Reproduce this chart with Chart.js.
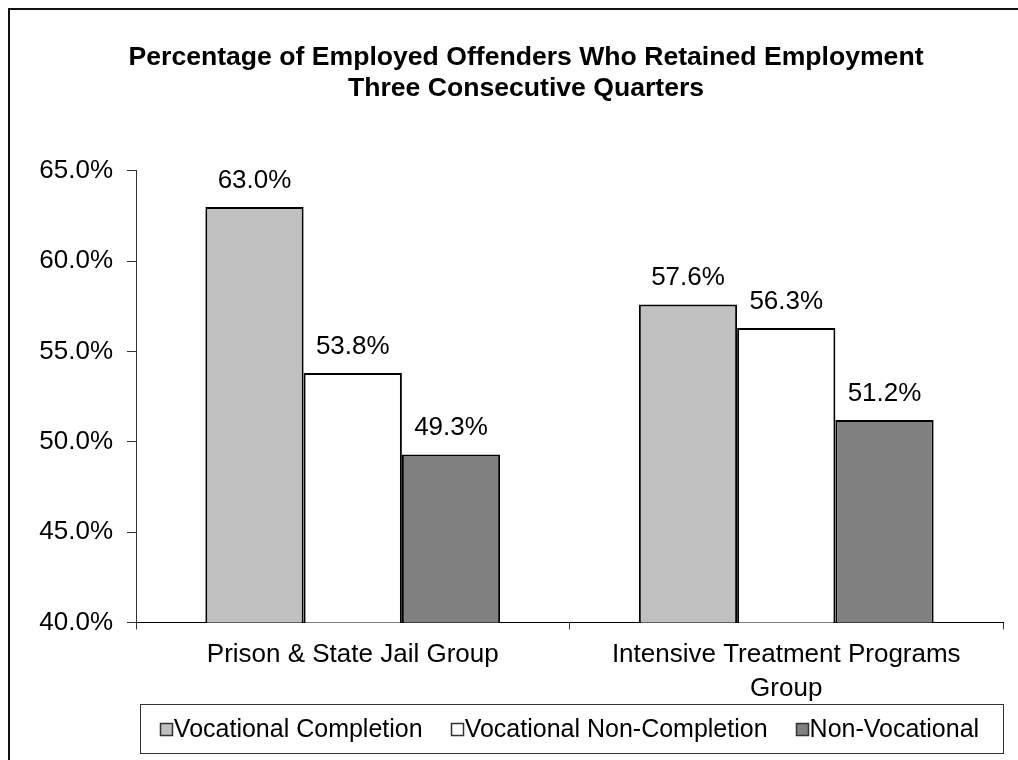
<!DOCTYPE html>
<html>
<head>
<meta charset="utf-8">
<script src="https://cdn.jsdelivr.net/npm/chart.js@4"></script>
<style>
  html, body { margin: 0; padding: 0; background: #fff; }
  #wrap { width: 1018px; height: 760px; }
</style>
</head>
<body>
<div id="wrap"><canvas id="chart"></canvas></div>
<script>
// --- Data ---
const groups = [
    'Prison & State Jail Group',
    ['Intensive Treatment Programs', 'Group']
];
const seriesNames = ['Vocational Completion', 'Vocational Non-Completion', 'Non-Vocational'];
const vocationalCompletion = [63.0, 57.6];
const vocationalNonCompletion = [53.8, 56.3];
const nonVocational = [49.3, 51.2];
const seriesColors = ['#c0c0c0', '#ffffff', '#808080'];

const FONT = "'Liberation Sans', Arial, sans-serif";

// value labels above each bar
const valueLabels = {
    id: 'valueLabels',
    afterDatasetsDraw(chart) {
        const ctx = chart.ctx;
        ctx.save();
        ctx.font = `26px ${FONT}`;
        ctx.fillStyle = '#000';
        ctx.textAlign = 'center';
        ctx.textBaseline = 'alphabetic';
        chart.data.datasets.forEach((ds, i) => {
            chart.getDatasetMeta(i).data.forEach((bar, j) => {
                ctx.fillText(ds.data[j].toFixed(1) + '%', bar.x, bar.y - 19);
            });
        });
        ctx.restore();
    }
};

// the original title sits a little right of the canvas centre
const titleShift = {
    id: 'titleShift',
    afterLayout(chart) {
        const t = chart.titleBlock;
        if (!t) return;
        t.left += 7.5;
        t.right += 7.5;
    }
};

// boxed legend under the axis + the page frame
const boxedLegend = {
    id: 'boxedLegend',
    afterDraw(chart) {
        const ctx = chart.ctx;
        const area = chart.chartArea;
        ctx.save();

        // outer frame (top + left only, rest is cropped)
        ctx.strokeStyle = '#111';
        ctx.lineWidth = 2;
        ctx.beginPath();
        ctx.moveTo(9, 760);
        ctx.lineTo(9, 9);
        ctx.lineTo(1018, 9);
        ctx.stroke();

        // legend box
        const top = 704, bottom = 753;
        ctx.lineWidth = 1;
        ctx.strokeStyle = '#333';
        ctx.strokeRect(Math.round(area.left) + 4.5, top + 0.5, Math.round(area.right - area.left) - 4, bottom - top);

        ctx.font = `25px ${FONT}`;
        const box = 12, gap = 2, spacing = 28;
        const widths = chart.data.datasets.map(ds => ctx.measureText(ds.label).width);
        const total = widths.reduce((a, w) => a + box + gap + w, 0) + spacing * (widths.length - 1);
        let x = (area.left + area.right) / 2 - total / 2;
        const cy = (top + bottom) / 2 + 0.5;
        ctx.textBaseline = 'middle';
        ctx.textAlign = 'left';
        chart.data.datasets.forEach((ds, i) => {
            ctx.fillStyle = ds.backgroundColor;
            ctx.fillRect(Math.round(x) + 0.5, Math.round(cy - box / 2) + 0.5, box, box);
            ctx.strokeStyle = '#333';
            ctx.lineWidth = 1.5;
            ctx.strokeRect(Math.round(x) + 0.5, Math.round(cy - box / 2) + 0.5, box, box);
            ctx.fillStyle = '#000';
            ctx.fillText(ds.label, x + box + gap, cy + 1);
            x += box + gap + widths[i] + spacing;
        });
        ctx.restore();
    }
};

const makeSet = (i, data) => ({
    label: seriesNames[i],
    data: data,
    backgroundColor: seriesColors[i],
    borderColor: '#000',
    borderWidth: 2,
    borderSkipped: 'bottom',
    categoryPercentage: 0.68,
    barPercentage: 1.0
});

const init = () => {
    const ctx = document.getElementById('chart');

    new Chart(ctx, {
        type: 'bar',
        data: {
            labels: groups,
            datasets: [
                makeSet(0, vocationalCompletion),
                makeSet(1, vocationalNonCompletion),
                makeSet(2, nonVocational)
            ]
        },
        options: {
            responsive: true,
            maintainAspectRatio: false,
            animation: false,
            layout: { padding: { left: 34, right: 15, top: 0, bottom: 45 } },
            plugins: {
                legend: { display: false },
                tooltip: { enabled: false },
                title: {
                    display: true,
                    text: ['Percentage of Employed Offenders Who Retained Employment', 'Three Consecutive Quarters'],
                    color: '#000',
                    font: { family: FONT, size: 26.6, weight: 'bold', lineHeight: 1.18 },
                    padding: { top: 42, bottom: 66 }
                }
            },
            scales: {
                y: {
                    min: 40,
                    max: 65,
                    ticks: {
                        stepSize: 5,
                        color: '#000',
                        padding: 14,
                        font: { family: FONT, size: 26 },
                        callback: v => v.toFixed(1) + '%'
                    },
                    grid: { drawOnChartArea: false, drawTicks: true, tickLength: 9, color: '#333' },
                    border: { color: '#333', width: 1 },
                    afterFit: scale => { scale.width = 102; }
                },
                x: {
                    ticks: {
                        color: '#000',
                        padding: 9,
                        font: { family: FONT, size: 26, lineHeight: 1.3 }
                    },
                    grid: { drawOnChartArea: false, drawTicks: true, tickLength: 7, offset: true, color: '#333' },
                    border: { color: '#000', width: 1 }
                }
            }
        },
        plugins: [valueLabels, titleShift, boxedLegend]
    });
};

document.addEventListener('DOMContentLoaded', init);
</script>
</body>
</html>
